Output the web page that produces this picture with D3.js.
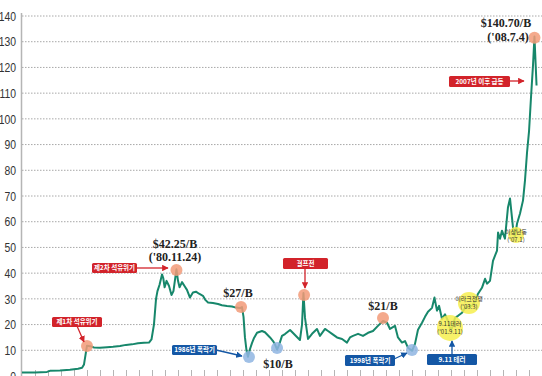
<!DOCTYPE html>
<html>
<head>
<meta charset="utf-8">
<script src="https://d3js.org/d3.v7.min.js"></script>
<style>
  body { margin: 0; background: #fff; }
  svg { display: block; }
</style>
</head>
<body>
<svg id="chart" width="542" height="376"></svg>
<script>
// Dubai crude, $ per barrel
const years = [1969.0, 1970.0, 1970.92, 1971.15, 1971.92, 1972.69, 1973.31, 1973.62, 1973.77, 1973.88,
  1974.0, 1974.23, 1974.54, 1975.0, 1975.54, 1976.0, 1976.54, 1977.0, 1977.46, 1977.92,
  1978.38, 1978.77, 1978.96, 1979.15, 1979.31, 1979.42, 1979.58, 1979.77, 1979.87, 1979.97,
  1980.12, 1980.31, 1980.5, 1980.65, 1980.88, 1981.0, 1981.12, 1981.31, 1981.5, 1981.69,
  1981.92, 1982.15, 1982.38, 1982.62, 1982.92, 1983.12, 1983.31, 1983.69, 1984.08, 1984.38,
  1984.77, 1985.15, 1985.46, 1985.77, 1985.92, 1986.04, 1986.15, 1986.27, 1986.38, 1986.54,
  1986.69, 1986.85, 1987.08, 1987.46, 1987.69, 1988.08, 1988.31, 1988.46, 1988.62, 1988.77,
  1989.0, 1989.23, 1989.62, 1989.85, 1990.15, 1990.38, 1990.54, 1990.65, 1990.77, 1991.0,
  1991.31, 1991.69, 1991.92, 1992.31, 1992.54, 1992.85, 1993.23, 1993.62, 1994.0, 1994.23,
  1994.46, 1994.85, 1995.23, 1995.62, 1996.0, 1996.38, 1996.77, 1997.08, 1997.31, 1997.69,
  1997.92, 1998.23, 1998.46, 1998.69, 1999.0, 1999.23, 1999.46, 1999.77, 2000.0, 2000.23,
  2000.54, 2000.73, 2000.92, 2001.08, 2001.31, 2001.54, 2001.77, 2001.92, 2002.08, 2002.31,
  2002.54, 2002.85, 2003.08, 2003.31, 2003.62, 2003.85, 2004.08, 2004.38, 2004.62, 2004.77,
  2005.0, 2005.23, 2005.54, 2005.62, 2005.77, 2005.92, 2006.15, 2006.38, 2006.54, 2006.77,
  2006.92, 2007.08, 2007.31, 2007.54, 2007.69, 2007.85, 2008.0, 2008.15, 2008.31, 2008.42,
  2008.58];
const prices = [1.4, 1.4, 1.6, 2.0, 2.1, 2.4, 2.8, 3.2, 4.5, 8,
  11.8, 11.6, 11.1, 11.0, 11.2, 11.4, 11.7, 12.1, 12.3, 12.7,
  12.9, 13.0, 14.2, 20, 30, 33, 35.5, 39.5, 38, 34.5,
  37, 35, 31.5, 33, 41.5, 37, 34.5, 36.5, 35, 33.5,
  30.5, 32.5, 32.8, 32.0, 31.2, 29.5, 28.6, 28.4, 28.0, 27.5,
  27.2, 27.0, 26.6, 26.4, 26.8, 23, 15, 10, 7.5, 10.5,
  12.8, 14.8, 16.8, 17.5, 17.0, 15.0, 13.6, 12.3, 10.3, 12.0,
  15.6, 16.3, 17.9, 16.7, 15.2, 14.0, 20, 32.3, 22.6, 14.4,
  16.4, 18.3, 15.6, 18.3, 17.5, 16.4, 15.0, 14.4, 13.0, 15.0,
  15.6, 16.4, 15.6, 16.8, 17.5, 19.5, 21.4, 20.7, 18.3, 19.5,
  15.0, 13.0, 13.6, 11.0, 9.8, 12.5, 18.0, 20.7, 23.0, 25.0,
  26.5, 30.5, 25.4, 27.3, 22.2, 24.0, 21.4, 18.5, 18.7, 22.6,
  23.4, 24.6, 26.5, 27.0, 27.3, 29.0, 32.0, 34.3, 37.8, 35.9,
  37.0, 44.8, 48.8, 55.8, 53.4, 56.5, 53.4, 65.5, 69.0, 57.7,
  54.0, 59.3, 63.2, 68.3, 76, 87, 95, 108, 121, 132,
  113];

const yTicks = [0, 10, 20, 30, 40, 50, 60, 70, 80, 90, 100, 110, 120, 130, 140];
const xTickYears = d3.range(1970, 2009);

// event markers: year, price, kind
const markYears  = [1974.0, 1980.88, 1985.85, 1986.46, 1988.62, 1990.7, 1996.77, 1999.0, 2008.42];
const markPrices = [11.7, 41.2, 26.8, 7.4, 10.9, 31.5, 22.6, 10.1, 131.5];
const markKinds  = ['up', 'up', 'up', 'down', 'down', 'up', 'up', 'down', 'up'];

const eventYears  = [2001.92, 2003.38, 2007.0];
const eventPrices = [18.7, 28.4, 54.8];
const eventNames  = ['9.11테러', '이라크전쟁', '이상난동'];
const eventDates  = ["('01.9.11)", "('03.3)", "('07.1)"];

const svg = d3.select('#chart');
const x = d3.scaleLinear().domain([1969, 2009]).range([22, 542]);
const y = d3.scaleLinear().domain([0, 140]).range([376, 16]);

// grid
svg.append('g')
  .selectAll('line')
  .data(yTicks.filter(d => d > 0))
  .enter().append('line')
    .attr('x1', 22).attr('x2', 542)
    .attr('y1', d => y(d)).attr('y2', d => y(d))
    .attr('stroke', '#a8a8a8')
    .attr('stroke-width', 1)
    .attr('stroke-dasharray', '1.5,1.5');

// y axis line + labels (narrow digits like the print)
svg.append('line')
  .attr('x1', 21.5).attr('x2', 21.5).attr('y1', 13).attr('y2', 376)
  .attr('stroke', '#b5b5b5').attr('stroke-width', 1.5);

svg.append('g')
  .selectAll('text')
  .data(yTicks)
  .enter().append('text')
    .attr('transform', d => 'translate(16,' + y(d) + ') scale(0.8,1)')
    .attr('dy', '0.36em')
    .attr('text-anchor', 'end')
    .style('font-family', 'Liberation Sans, Arial, sans-serif')
    .style('font-size', '13px')
    .attr('fill', '#333')
    .text(d => d);

// year ticks along the bottom
const xAxis = svg.append('g')
  .attr('transform', 'translate(0,376)')
  .call(d3.axisBottom(x).tickValues(xTickYears).tickSize(-6).tickFormat(''));
xAxis.select('.domain').remove();
xAxis.selectAll('line').attr('stroke', '#b5b5b5');

// price line
const line = d3.line().x((d, i) => x(years[i])).y(d => y(d));
svg.append('path')
  .datum(prices)
  .attr('d', line)
  .attr('fill', 'none')
  .attr('stroke', '#17876b')
  .attr('stroke-width', 2)
  .attr('stroke-linejoin', 'round');

// arrow markers
const defs = svg.append('defs');
[['red', '#d2232a'], ['blue', '#1457a5']].forEach(function(c) {
  defs.append('marker')
    .attr('id', 'arr-' + c[0])
    .attr('viewBox', '0 0 10 10')
    .attr('refX', 9).attr('refY', 5)
    .attr('markerWidth', 5).attr('markerHeight', 5)
    .attr('orient', 'auto')
    .append('path').attr('d', 'M0,0L10,5L0,10Z').attr('fill', c[1]);
});

// circles on peaks / lows
svg.append('g')
  .selectAll('circle')
  .data(markPrices)
  .enter().append('circle')
    .attr('cx', (d, i) => x(markYears[i]))
    .attr('cy', d => y(d))
    .attr('r', 6)
    .attr('fill', (d, i) => markKinds[i] == 'up' ? '#f29a78' : '#8fb5e2')
    .attr('opacity', 0.85);

// yellow event circles
const ev = svg.append('g').selectAll('g')
  .data(eventPrices)
  .enter().append('g')
    .attr('transform', (d, i) => 'translate(' + x(eventYears[i]) + ',' + y(d) + ')');
ev.append('circle')
  .attr('r', (d, i) => [13, 11, 8][i])
  .attr('fill', '#f6ef4f')
  .attr('opacity', 0.85);
ev.append('text')
  .attr('y', -1.5)
  .attr('text-anchor', 'middle')
  .style('font-family', 'Noto Sans CJK KR, sans-serif')
  .style('font-size', '6px')
  .attr('fill', '#333')
  .text((d, i) => eventNames[i]);
ev.append('text')
  .attr('y', 6.5)
  .attr('text-anchor', 'middle')
  .style('font-family', 'Noto Sans CJK KR, sans-serif')
  .style('font-size', '6px')
  .attr('fill', '#333')
  .text((d, i) => eventDates[i]);

// label boxes with arrows
function tag(txt, x0, y0, w, h, col, ax1, ay1, ax2, ay2) {
  const fill = col == 'red' ? '#d2232a' : '#1457a5';
  svg.append('line')
    .attr('x1', ax1).attr('y1', ay1).attr('x2', ax2).attr('y2', ay2)
    .attr('stroke', fill).attr('stroke-width', 1.3)
    .attr('marker-end', 'url(#arr-' + col + ')');
  svg.append('rect')
    .attr('x', x0).attr('y', y0).attr('width', w).attr('height', h)
    .attr('rx', 1.5).attr('fill', fill);
  svg.append('text')
    .attr('x', x0 + w / 2).attr('y', y0 + h / 2)
    .attr('dy', '0.36em')
    .attr('text-anchor', 'middle')
    .style('font-family', 'Noto Sans CJK KR, sans-serif')
    .style('font-size', '6.5px')
    .style('font-weight', 'bold')
    .attr('fill', '#fff')
    .text(txt);
}
tag('제1차 석유위기', 52, 317, 50, 10, 'red', 77, 326, 84, 342);
tag('제2차 석유위기', 92, 263, 45, 10, 'red', 137, 268, 168, 268);
tag('1986년 폭락기', 172, 345, 45, 10, 'blue', 216, 350, 242, 356);
tag('걸프전', 283, 258, 45, 11, 'red', 305, 268, 305, 288);
tag('1998년 폭락기', 345, 355, 50, 11, 'blue', 394, 359, 407, 353);
tag('9.11 테러', 427, 354, 50, 11, 'blue', 452, 354, 452, 341);
tag('2007년 이후 급등', 449, 76, 61, 11, 'red', 509, 81, 524, 81);

// price notes
const notes = [
  ['$42.25/B', 175, 244], ["('80.11.24)", 175, 257],
  ['$27/B', 238, 293], ['$10/B', 278, 364], ['$21/B', 383, 306],
  ['$140.70/B', 506, 23], ["('08.7.4)", 508, 37]
];
svg.append('g')
  .selectAll('text')
  .data(notes)
  .enter().append('text')
    .attr('x', d => d[1]).attr('y', d => d[2])
    .attr('dy', '0.36em')
    .attr('text-anchor', 'middle')
    .style('font-family', 'Liberation Serif, Times New Roman, serif')
    .style('font-size', '12px')
    .style('font-weight', 'bold')
    .attr('fill', '#222')
    .text(d => d[0]);
</script>
</body>
</html>
